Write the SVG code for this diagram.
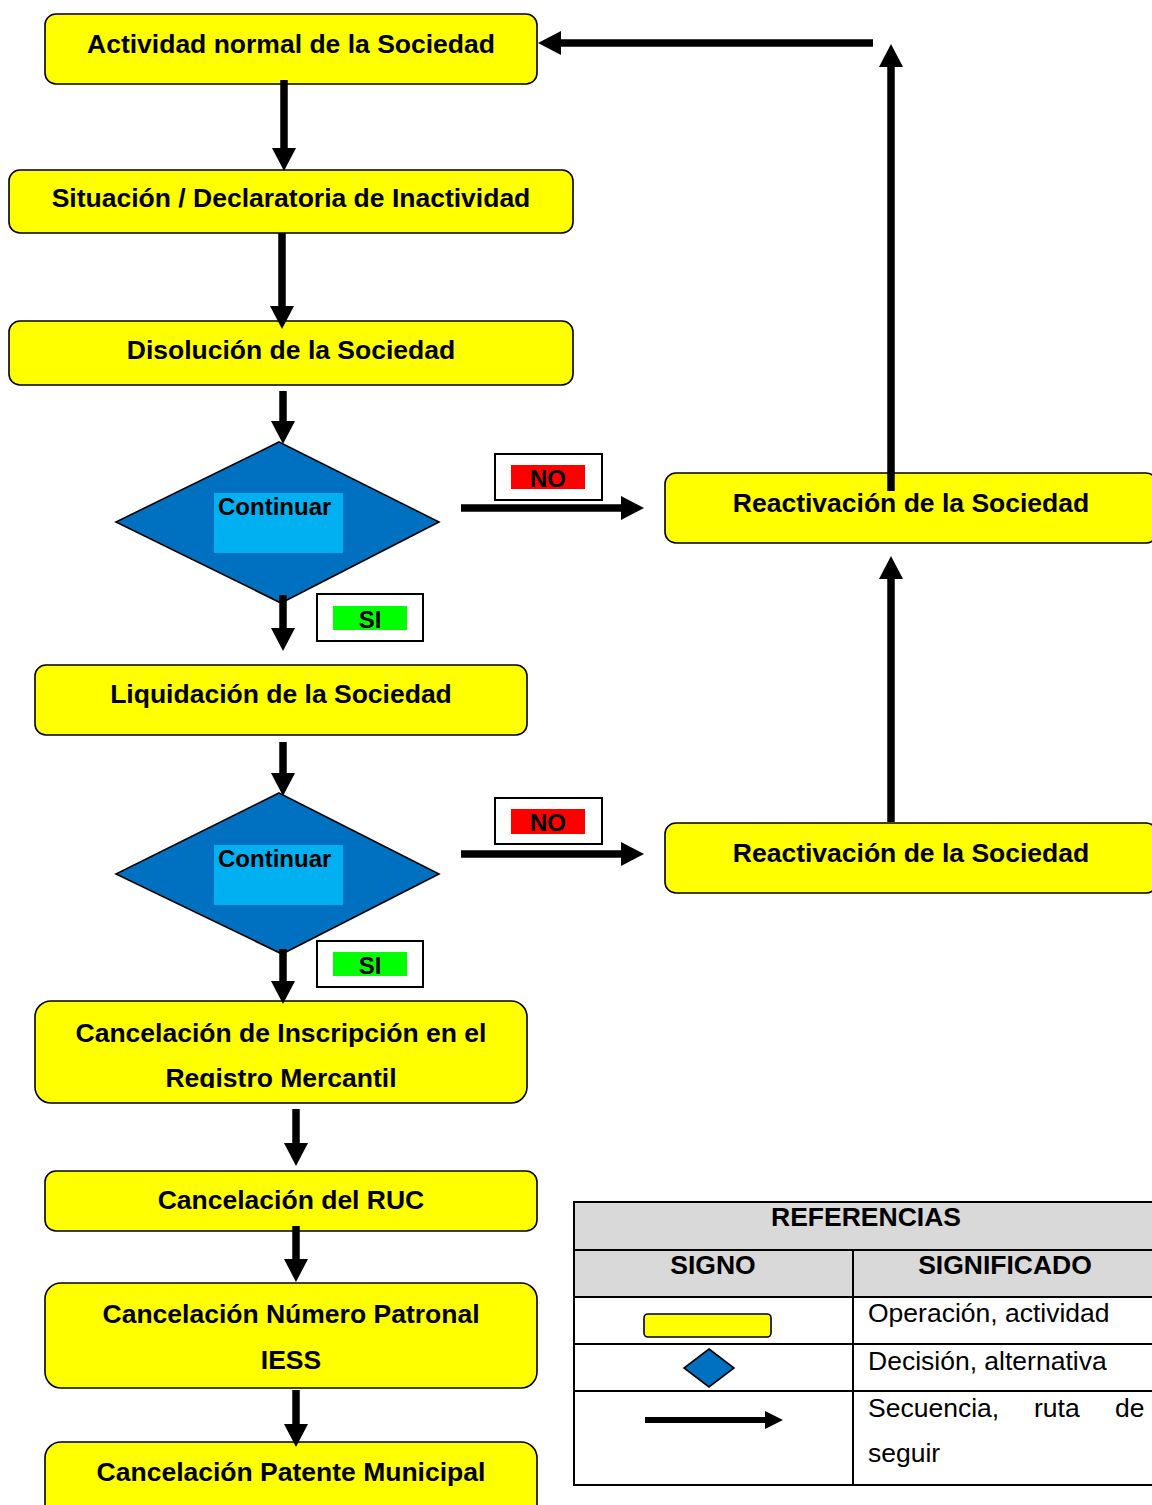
<svg xmlns="http://www.w3.org/2000/svg" width="1152" height="1505" viewBox="0 0 1152 1505">
<style>
.box{fill:#ffff00;stroke:#000;stroke-width:1.6}
.t{font-family:"Liberation Sans",Arial,sans-serif;font-weight:bold;font-size:26.5px;fill:#000;text-anchor:middle}
.s{font-family:"Liberation Sans",Arial,sans-serif;font-weight:bold;font-size:24px;fill:#000}
.r{font-family:"Liberation Sans",Arial,sans-serif;font-size:26.5px;fill:#000}
.dia{fill:#0070c0;stroke:#000;stroke-width:1.6}
.inner{fill:#00b0f0}
.lbl{fill:#fff;stroke:#000;stroke-width:2}
.con{stroke:#000;stroke-width:7.5;fill:none;marker-end:url(#ah)}
.grid{stroke:#000;stroke-width:2;fill:none}
</style>
<defs>
<marker id="ah" markerUnits="userSpaceOnUse" markerWidth="23" markerHeight="24" refX="0" refY="12" orient="auto">
<path d="M0,0 L23,12 L0,24 Z" fill="#000"/>
</marker>
<marker id="ahs" markerUnits="userSpaceOnUse" markerWidth="18" markerHeight="18" refX="0" refY="9" orient="auto">
<path d="M0,0 L18,9 L0,18 Z" fill="#000"/>
</marker>
<clipPath id="clipReg"><rect x="35" y="1000" width="492" height="88"/></clipPath>
</defs>

<g id="n_actividad">
<rect class="box" x="45" y="14" width="492" height="70" rx="11"/>
<text class="t" x="291" y="53">Actividad normal de la Sociedad</text>
</g>
<g id="n_situacion">
<rect class="box" x="9" y="170" width="564" height="63" rx="11"/>
<text class="t" x="291" y="207">Situación / Declaratoria de Inactividad</text>
</g>
<g id="n_disolucion">
<rect class="box" x="9" y="321" width="564" height="64" rx="11"/>
<text class="t" x="291" y="359">Disolución de la Sociedad</text>
</g>
<g id="n_decision1">
<polygon class="dia" points="279,442 439,522 281,603 116,522"/>
<rect class="inner" x="214" y="493" width="129" height="60"/>
<text class="s" x="218" y="515">Continuar</text>
</g>
<g id="lbl_no1">
<rect class="lbl" x="495" y="454" width="107" height="46"/>
<rect x="511" y="465" width="74" height="24" fill="#ff0000"/>
<text class="s" x="548" y="487" text-anchor="middle">NO</text>
</g>
<g id="lbl_si1">
<rect class="lbl" x="317" y="594" width="106" height="47"/>
<rect x="333" y="606" width="74" height="24" fill="#00ff00"/>
<text class="s" x="370" y="628" text-anchor="middle">SI</text>
</g>
<g id="n_reactivacion1">
<rect class="box" x="665" y="473" width="492" height="70" rx="11"/>
<text class="t" x="911" y="512">Reactivación de la Sociedad</text>
</g>
<g id="n_liquidacion">
<rect class="box" x="35" y="665" width="492" height="70" rx="11"/>
<text class="t" x="281" y="703">Liquidación de la Sociedad</text>
</g>
<g id="n_decision2">
<polygon class="dia" points="279,793 439,874 282,954 116,874"/>
<rect class="inner" x="214" y="845" width="129" height="60"/>
<text class="s" x="218" y="867">Continuar</text>
</g>
<g id="lbl_no2">
<rect class="lbl" x="495" y="798" width="107" height="46"/>
<rect x="511" y="809" width="74" height="25" fill="#ff0000"/>
<text class="s" x="548" y="831" text-anchor="middle">NO</text>
</g>
<g id="lbl_si2">
<rect class="lbl" x="317" y="941" width="106" height="46"/>
<rect x="333" y="952" width="74" height="24" fill="#00ff00"/>
<text class="s" x="370" y="974" text-anchor="middle">SI</text>
</g>
<g id="n_reactivacion2">
<rect class="box" x="665" y="823" width="492" height="70" rx="11"/>
<text class="t" x="911" y="862">Reactivación de la Sociedad</text>
</g>
<g id="n_inscripcion">
<rect class="box" x="35" y="1001" width="492" height="102" rx="16"/>
<text class="t" x="281" y="1042">Cancelación de Inscripción en el</text>
<text class="t" x="281" y="1087" clip-path="url(#clipReg)">Registro Mercantil</text>
</g>
<g id="n_ruc">
<rect class="box" x="45" y="1171" width="492" height="60" rx="11"/>
<text class="t" x="291" y="1209">Cancelación del RUC</text>
</g>
<g id="n_patronal">
<rect class="box" x="45" y="1283" width="492" height="105" rx="16"/>
<text class="t" x="291" y="1323">Cancelación Número Patronal</text>
<text class="t" x="291" y="1369">IESS</text>
</g>
<g id="n_patente">
<rect class="box" x="45" y="1442" width="492" height="80" rx="16"/>
<text class="t" x="291" y="1481">Cancelación Patente Municipal</text>
</g>

<g id="connectors">
<line class="con" x1="284" y1="80" x2="284" y2="148"/>
<line class="con" x1="282" y1="233" x2="282" y2="306"/>
<line class="con" x1="283" y1="391" x2="283" y2="421"/>
<line class="con" x1="283" y1="595" x2="283" y2="628"/>
<line class="con" x1="461" y1="508" x2="621" y2="508"/>
<line class="con" x1="891" y1="491" x2="891" y2="67"/>
<line class="con" x1="873" y1="43" x2="561" y2="43"/>
<line class="con" x1="283" y1="742" x2="283" y2="773"/>
<line class="con" x1="461" y1="854" x2="621" y2="854"/>
<line class="con" x1="891" y1="822" x2="891" y2="579"/>
<line class="con" x1="283" y1="949" x2="283" y2="981"/>
<line class="con" x1="296" y1="1109" x2="296" y2="1143"/>
<line class="con" x1="296" y1="1226" x2="296" y2="1259"/>
<line class="con" x1="296" y1="1390" x2="296" y2="1424"/>
</g>

<g id="legend">
<rect x="574" y="1202" width="584" height="95" fill="#d9d9d9"/>
<rect class="grid" x="574" y="1202" width="584" height="283"/>
<line class="grid" x1="574" y1="1250" x2="1158" y2="1250"/>
<line class="grid" x1="574" y1="1297" x2="1158" y2="1297"/>
<line class="grid" x1="574" y1="1344" x2="1158" y2="1344"/>
<line class="grid" x1="574" y1="1391" x2="1158" y2="1391"/>
<line class="grid" x1="853" y1="1250" x2="853" y2="1485"/>
<text class="t" x="866" y="1226">REFERENCIAS</text>
<text class="t" x="713" y="1274">SIGNO</text>
<text class="t" x="1005" y="1274">SIGNIFICADO</text>
<rect class="box" x="644" y="1314" width="127" height="23" rx="4"/>
<polygon class="dia" points="709,1349 734,1368 709,1387 684,1368"/>
<line x1="645" y1="1420" x2="765" y2="1420" stroke="#000" stroke-width="6" marker-end="url(#ahs)"/>
<text class="r" x="868" y="1322">Operación, actividad</text>
<text class="r" x="868" y="1370">Decisión, alternativa</text>
<text class="r" x="868" y="1417">Secuencia,</text>
<text class="r" x="1034" y="1417">ruta</text>
<text class="r" x="1115" y="1417">de</text>
<text class="r" x="868" y="1462">seguir</text>
</g>
</svg>
